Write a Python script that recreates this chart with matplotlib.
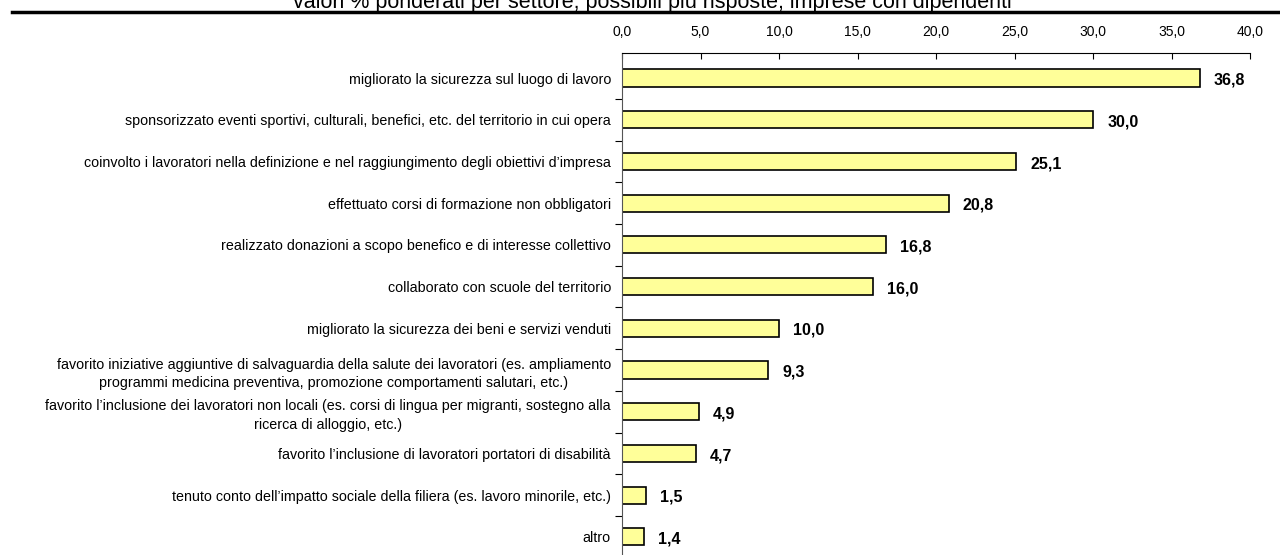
import matplotlib.pyplot as plt
from matplotlib.lines import Line2D

plt.rcParams['font.family'] = ['Liberation Sans Narrow', 'Liberation Sans', 'DejaVu Sans']

voci = [
    "migliorato la sicurezza sul luogo di lavoro",
    "sponsorizzato eventi sportivi, culturali, benefici, etc. del territorio in cui opera",
    "coinvolto i lavoratori nella definizione e nel raggiungimento degli obiettivi d\u2019impresa",
    "effettuato corsi di formazione non obbligatori",
    "realizzato donazioni a scopo benefico e di interesse collettivo",
    "collaborato con scuole del territorio",
    "migliorato la sicurezza dei beni e servizi venduti",
    "favorito iniziative aggiuntive di salvaguardia della salute dei lavoratori (es. ampliamento\nprogrammi medicina preventiva, promozione comportamenti salutari, etc.)",
    "favorito l\u2019inclusione dei lavoratori non locali (es. corsi di lingua per migranti, sostegno alla\nricerca di alloggio, etc.)",
    "favorito l\u2019inclusione di lavoratori portatori di disabilit\u00e0",
    "tenuto conto dell\u2019impatto sociale della filiera (es. lavoro minorile, etc.)",
    "altro",
]
valori = [36.8, 30.0, 25.1, 20.8, 16.8, 16.0, 10.0, 9.3, 4.9, 4.7, 1.5, 1.4]
ticks_x = [0, 5, 10, 15, 20, 25, 30, 35, 40]

fig = plt.figure(figsize=(12.8, 5.55), dpi=100)
ax = fig.add_axes([622 / 1280, -9 / 555, 628 / 1280, 511 / 555])

pos = list(range(len(voci)))
ax.barh(pos, valori, height=0.41, color='#ffff99', edgecolor='black', linewidth=1.2)
for p, v in zip(pos, valori):
    ax.text(v + 0.9, p + 0.05, f"{v:.1f}".replace('.', ','), va='center', ha='left',
            fontsize=11.5, fontweight='bold')

ax.set_xlim(0, 40)
ax.set_ylim(len(voci) - 0.5 + 0.15, -0.6)
ax.xaxis.tick_top()
ax.set_xticks(ticks_x)
ax.set_xticklabels([f"{t:.1f}".replace('.', ',') for t in ticks_x], fontsize=10)
ax.tick_params(axis='x', direction='in', length=4, pad=10)

# tacche tra le categorie, etichette centrate sulle barre
ax.set_yticks([p + 0.5 for p in pos[:-1]])
ax.set_yticklabels([])
ax.set_yticks(pos, minor=True)
ax.set_yticklabels(voci, minor=True, fontsize=10.3, multialignment='center', linespacing=1.45)
ax.tick_params(axis='y', which='minor', length=0, pad=8)
ax.tick_params(axis='y', which='major', length=5, direction='out')

ax.spines['right'].set_visible(False)
ax.spines['bottom'].set_visible(False)
ax.spines['top'].set_color('black')
ax.spines['left'].set_color('#555555')

fig.text(0.51, 1 - 8 / 555, "valori % ponderati per settore, possibili pi\u00f9 risposte, imprese con dipendenti",
         ha='center', va='baseline', fontsize=15.5)
fig.add_artist(Line2D([12 / 1280, 1], [1 - 12 / 555, 1 - 12 / 555], color='black', linewidth=2.5,
                      transform=fig.transFigure))

fig.savefig('out.png', dpi=100)
